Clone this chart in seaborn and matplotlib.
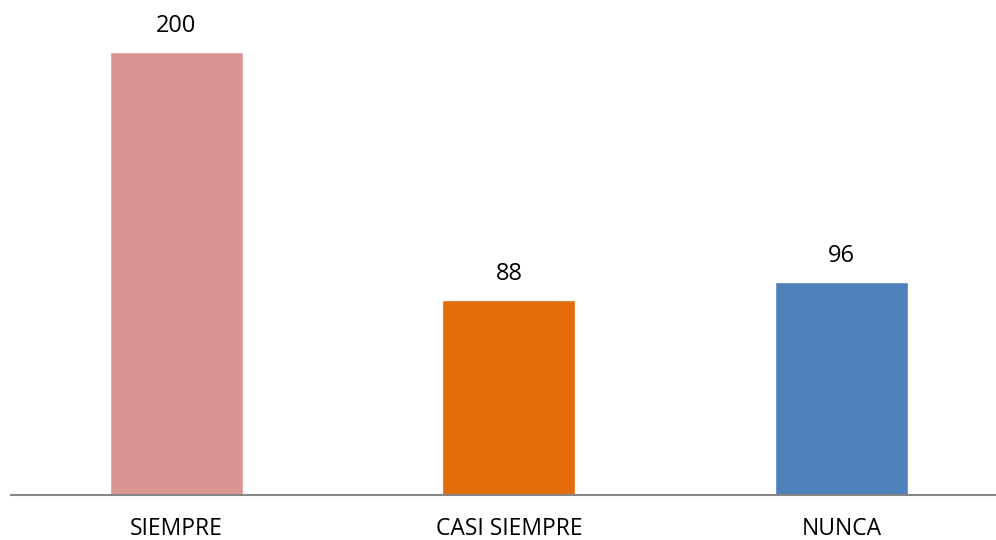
import matplotlib
matplotlib.use("Agg")
import matplotlib.pyplot as plt
import seaborn as sns
import pandas as pd

categories = ["SIEMPRE", "CASI SIEMPRE", "NUNCA"]
values = [200, 88, 96]
colors = ["#D99594", "#E36C09", "#4F81BD"]

sns.set_theme(style="white")
plt.rcParams["font.family"] = ["Open Sans", "DejaVu Sans"]

df = pd.DataFrame({"cat": categories, "val": values})

fig = plt.figure(figsize=(9.96, 5.4), dpi=100)
ax = fig.add_axes([11 / 996, 45 / 540, 984 / 996, 495 / 540])
sns.barplot(data=df, x="cat", y="val", hue="cat", palette=colors,
            width=0.4, legend=False, ax=ax, saturation=1)

ax.set_ylim(0, 200 * 495 / 443)
ax.set_xlim(-0.4977, 2.4617)
for c in ax.containers:
    ax.bar_label(c, fmt="%d", padding=10, fontsize=17, color="black")

ax.set_xlabel("")
ax.set_ylabel("")
ax.set_yticks([])
ax.tick_params(axis="x", length=0, pad=16, labelsize=16.5, labelcolor="black")
for s in ["top", "right", "left"]:
    ax.spines[s].set_visible(False)
ax.spines["bottom"].set_color("#868686")
ax.spines["bottom"].set_linewidth(1.5)

fig.savefig("out.png", dpi=100)
